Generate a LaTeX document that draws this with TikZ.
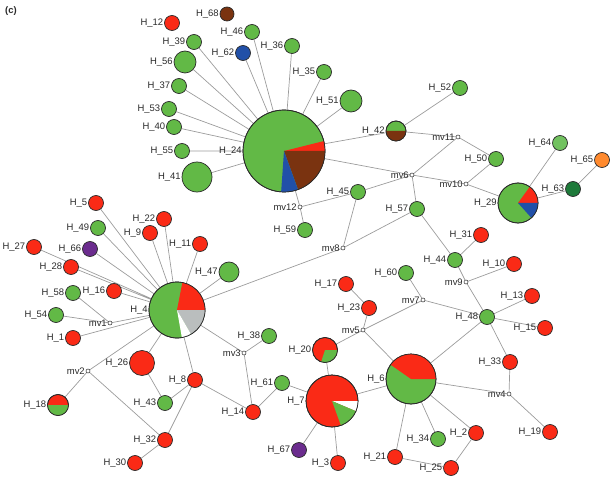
\documentclass[tikz,border=0pt]{standalone}
\usepackage{fontspec}
\setmainfont{Liberation Sans}
\usepackage{tikz}
\usetikzlibrary{backgrounds}
\definecolor{ink}{HTML}{2A2A2A}
\definecolor{hapgreen}{HTML}{62B946}
\definecolor{hapltgreen}{HTML}{72C260}
\definecolor{hapdkgreen}{HTML}{1E7A3A}
\definecolor{hapred}{HTML}{FA2A16}
\definecolor{hapbrown}{HTML}{7A3310}
\definecolor{hapblue}{HTML}{2150A8}
\definecolor{happurple}{HTML}{6B2C8E}
\definecolor{haporange}{HTML}{FF8A2E}
\definecolor{hapgrey}{HTML}{BABEBE}
\definecolor{linkgrey}{HTML}{9C9C9C}
\newcommand{\hapfont}{\fontsize{9.5}{11}\selectfont}
% one wedge of a pie node: node, radius, start, end, colour
\newcommand{\hapslice}[5]{\fill[#5] (#1.center) -- ++(#3:#2) arc[start angle=#3, end angle=#4, radius=#2] -- cycle;}

\begin{document}
\begin{tikzpicture}[
  x=1bp, y=-1bp,
  hap/.style={circle, draw=ink, line width=0.7bp, inner sep=0pt, minimum size=15bp},
  ghap/.style={hap, fill=hapgreen},
  rhap/.style={hap, fill=hapred},
  mv/.style={circle, draw=ink, line width=0.5bp, fill=white, inner sep=0pt, minimum size=4bp},
  lbl/.style={font=\hapfont, text=ink, inner sep=0.8bp},
  link/.style={linkgrey, line width=0.7bp},
  rim/.style={ink, line width=0.7bp}
]
  \useasboundingbox (0,0) rectangle (612,477);
  \node[font=\hapfont\bfseries, text=ink] (panel) at (11,11) {(c)};

  % large pie nodes
  \node[ghap, minimum size=82bp, label={[lbl]left:H\_24}] (H_24) at (284,151) {};
  \node[ghap, minimum size=56bp, label={[lbl]left:H\_4}] (H_4) at (177,310) {};
  \node[rhap, minimum size=52bp, label={[lbl]left:H\_7}] (H_7) at (332,401) {};
  \node[ghap, minimum size=50bp, label={[lbl]left:H\_6}] (H_6) at (411,379) {};
  \node[ghap, minimum size=40bp, label={[lbl]left:H\_29}] (H_29) at (518,203) {};
  \node[rhap, minimum size=25bp, label={[lbl]left:H\_20}] (H_20) at (325,350) {};
  \node[ghap, minimum size=20bp, label={[lbl]left:H\_42}] (H_42) at (396,131) {};
  \node[rhap, minimum size=21bp, label={[lbl]left:H\_18}] (H_18) at (58,405) {};

  % top fan
  \node[rhap, label={[lbl]left:H\_12}] (H_12) at (172,23) {};
  \node[hap, fill=hapbrown, minimum size=14bp, label={[lbl]left:H\_68}] (H_68) at (227,14) {};
  \node[ghap, label={[lbl]left:H\_46}] (H_46) at (252,32) {};
  \node[ghap, label={[lbl]left:H\_39}] (H_39) at (194,42) {};
  \node[hap, fill=hapblue, label={[lbl]left:H\_62}] (H_62) at (243,53) {};
  \node[ghap, label={[lbl]left:H\_36}] (H_36) at (292,46) {};
  \node[ghap, minimum size=22bp, label={[lbl]left:H\_56}] (H_56) at (185,62) {};
  \node[ghap, label={[lbl]left:H\_35}] (H_35) at (324,72) {};
  \node[ghap, label={[lbl]left:H\_37}] (H_37) at (179,86) {};
  \node[ghap, minimum size=22bp, label={[lbl]left:H\_51}] (H_51) at (351,101) {};
  \node[ghap, label={[lbl]left:H\_53}] (H_53) at (169,109) {};
  \node[ghap, label={[lbl]left:H\_40}] (H_40) at (174,127) {};
  \node[ghap, label={[lbl]left:H\_55}] (H_55) at (182,151) {};
  \node[ghap, minimum size=30bp, label={[lbl]left:H\_41}] (H_41) at (197,177) {};
  \node[ghap, label={[lbl]left:H\_52}] (H_52) at (460,88) {};
  \node[ghap, label={[lbl]left:H\_50}] (H_50) at (496,159) {};
  \node[hap, fill=hapltgreen, label={[lbl]left:H\_64}] (H_64) at (560,143) {};
  \node[hap, fill=haporange, label={[lbl]left:H\_65}] (H_65) at (602,160) {};
  \node[hap, fill=hapdkgreen, label={[lbl]left:H\_63}] (H_63) at (573,189) {};
  \node[ghap, label={[lbl]left:H\_45}] (H_45) at (358,192) {};
  \node[ghap, label={[lbl]left:H\_57}] (H_57) at (417,209) {};
  \node[ghap, label={[lbl]left:H\_59}] (H_59) at (305,230) {};
  \node[rhap, label={[lbl]left:H\_31}] (H_31) at (481,235) {};

  % left star
  \node[rhap, label={[lbl]left:H\_5}] (H_5) at (96,203) {};
  \node[ghap, label={[lbl]left:H\_49}] (H_49) at (98,228) {};
  \node[rhap, label={[lbl]left:H\_22}] (H_22) at (164,219) {};
  \node[rhap, label={[lbl]left:H\_9}] (H_9) at (150,233) {};
  \node[rhap, label={[lbl]left:H\_27}] (H_27) at (34,247) {};
  \node[hap, fill=happurple, label={[lbl]left:H\_66}] (H_66) at (90,249) {};
  \node[rhap, label={[lbl]left:H\_11}] (H_11) at (200,244) {};
  \node[rhap, label={[lbl]left:H\_28}] (H_28) at (71,267) {};
  \node[ghap, minimum size=20bp, label={[lbl]left:H\_47}] (H_47) at (229,272) {};
  \node[ghap, label={[lbl]left:H\_58}] (H_58) at (73,293) {};
  \node[rhap, label={[lbl]left:H\_16}] (H_16) at (114,291) {};
  \node[ghap, label={[lbl]left:H\_54}] (H_54) at (56,315) {};
  \node[rhap, label={[lbl]left:H\_1}] (H_1) at (73,338) {};
  \node[ghap, label={[lbl]left:H\_38}] (H_38) at (269,336) {};
  \node[rhap, minimum size=25bp, label={[lbl]left:H\_26}] (H_26) at (142,363) {};
  \node[rhap, label={[lbl]left:H\_8}] (H_8) at (195,380) {};
  \node[ghap, label={[lbl]left:H\_61}] (H_61) at (282,383) {};
  \node[ghap, label={[lbl]left:H\_43}] (H_43) at (165,403) {};
  \node[rhap, label={[lbl]left:H\_14}] (H_14) at (253,412) {};
  \node[rhap, label={[lbl]left:H\_32}] (H_32) at (165,440) {};
  \node[rhap, label={[lbl]left:H\_30}] (H_30) at (135,463) {};
  \node[hap, fill=happurple, label={[lbl]left:H\_67}] (H_67) at (299,450) {};
  \node[rhap, label={[lbl]left:H\_3}] (H_3) at (338,463) {};

  % right side
  \node[ghap, label={[lbl]left:H\_44}] (H_44) at (455,260) {};
  \node[rhap, label={[lbl]left:H\_10}] (H_10) at (514,264) {};
  \node[ghap, label={[lbl]left:H\_60}] (H_60) at (406,273) {};
  \node[rhap, label={[lbl]left:H\_17}] (H_17) at (346,284) {};
  \node[rhap, label={[lbl]left:H\_13}] (H_13) at (532,296) {};
  \node[rhap, label={[lbl]left:H\_23}] (H_23) at (369,308) {};
  \node[ghap, label={[lbl]left:H\_48}] (H_48) at (487,317) {};
  \node[rhap, label={[lbl]left:H\_15}] (H_15) at (545,328) {};
  \node[rhap, label={[lbl]left:H\_33}] (H_33) at (510,362) {};
  \node[rhap, label={[lbl]left:H\_19}] (H_19) at (550,432) {};
  \node[rhap, label={[lbl]left:H\_2}] (H_2) at (476,433) {};
  \node[ghap, label={[lbl]left:H\_34}] (H_34) at (438,439) {};
  \node[rhap, label={[lbl]left:H\_21}] (H_21) at (395,457) {};
  \node[rhap, label={[lbl]left:H\_25}] (H_25) at (451,468) {};

  % median vectors
  \node[mv, label={[lbl]left:mv1}] (mv1) at (110,323) {};
  \node[mv, label={[lbl]left:mv2}] (mv2) at (88,371) {};
  \node[mv, label={[lbl]left:mv3}] (mv3) at (244,353) {};
  \node[mv, label={[lbl]left:mv4}] (mv4) at (509,394) {};
  \node[mv, label={[lbl]left:mv5}] (mv5) at (363,330) {};
  \node[mv, label={[lbl]left:mv6}] (mv6) at (412,175) {};
  \node[mv, label={[lbl]left:mv7}] (mv7) at (423,300) {};
  \node[mv, label={[lbl]left:mv8}] (mv8) at (343,248) {};
  \node[mv, label={[lbl]left:mv9}] (mv9) at (466,282) {};
  \node[mv, label={[lbl]left:mv10}] (mv10) at (466,184) {};
  \node[mv, label={[lbl]left:mv11}] (mv11) at (458,137) {};
  \node[mv, label={[lbl]left:mv12}] (mv12) at (300,207) {};

  % pie wedges
  \hapslice{H_24}{41bp}{0}{14}{hapred}
  \hapslice{H_24}{41bp}{-70}{0}{hapbrown}
  \hapslice{H_24}{41bp}{-94}{-70}{hapblue}
  \draw[rim] (H_24.center) circle[radius=41bp];
  \hapslice{H_4}{28bp}{0}{79}{hapred}
  \hapslice{H_4}{28bp}{-60}{0}{hapgrey}
  \hapslice{H_4}{28bp}{-80}{-60}{white}
  \draw[rim] (H_4.center) circle[radius=28bp];
  \hapslice{H_7}{26bp}{-23}{0}{white}
  \hapslice{H_7}{26bp}{-70}{-23}{hapgreen}
  \draw[rim] (H_7.center) circle[radius=26bp];
  \hapslice{H_6}{25bp}{0}{145}{hapred}
  \draw[rim] (H_6.center) circle[radius=25bp];
  \hapslice{H_29}{20bp}{0}{54}{hapred}
  \hapslice{H_29}{20bp}{-48}{0}{hapblue}
  \draw[rim] (H_29.center) circle[radius=20bp];
  \hapslice{H_20}{12.5bp}{-108}{0}{hapgreen}
  \draw[rim] (H_20.center) circle[radius=12.5bp];
  \hapslice{H_42}{10bp}{180}{360}{hapbrown}
  \draw[rim] (H_42.center) circle[radius=10bp];
  \hapslice{H_18}{10.5bp}{180}{360}{hapgreen}
  \draw[rim] (H_18.center) circle[radius=10.5bp];

  \begin{scope}[on background layer]
    \draw[link] (H_24) -- (H_46) (H_24) -- (H_39);
    \draw[link] (H_24) -- (H_62) (H_24) -- (H_36) (H_24) -- (H_56) (H_24) -- (H_35);
    \draw[link] (H_24) -- (H_37) (H_24) -- (H_53) (H_24) -- (H_40) (H_24) -- (H_55);
    \draw[link] (H_24) -- (H_41) (H_24) -- (H_51) (H_24) -- (H_42) (H_24) -- (mv6) (H_24) -- (mv12);
    \draw[link] (H_42) -- (H_52) (H_42) -- (mv11) (mv11) -- (H_50) (mv11) -- (mv6);
    \draw[link] (mv6) -- (mv10) (mv6) -- (H_45) (mv6) -- (H_57) (mv10) -- (H_29) (mv10) -- (H_50);
    \draw[link] (H_29) -- (H_64) (H_29) -- (H_63) (H_63) -- (H_65);
    \draw[link] (mv12) -- (H_45) (mv12) -- (H_59) (mv8) -- (H_45) (mv8) -- (H_57) (mv8) -- (H_4);
    \draw[link] (H_57) -- (H_44) (H_44) -- (H_31) (H_44) -- (mv9) (mv9) -- (H_10) (mv9) -- (H_48);
    \draw[link] (H_48) -- (H_13) (H_48) -- (H_15) (H_48) -- (mv7) (H_48) -- (H_6) (H_48) -- (H_33);
    \draw[link] (mv7) -- (H_60) (mv7) -- (mv5) (mv5) -- (H_23) (H_23) -- (H_17) (mv5) -- (H_20) (mv5) -- (H_6);
    \draw[link] (H_33) -- (mv4) (mv4) -- (H_6) (mv4) -- (H_19);
    \draw[link] (H_6) -- (H_34) (H_6) -- (H_2) (H_6) -- (H_21) (H_6) -- (H_7) (H_25) -- (H_2) (H_25) -- (H_21);
    \draw[link] (H_7) -- (H_20) (H_7) -- (H_61) (H_7) -- (H_67) (H_7) -- (H_3) (H_61) -- (H_14);
    \draw[link] (H_14) -- (mv3) (H_14) -- (H_8) (mv3) -- (H_38) (mv3) -- (H_4);
    \draw[link] (H_8) -- (H_4) (H_8) -- (H_43) (H_8) -- (H_32) (H_43) -- (H_26) (H_26) -- (H_4);
    \draw[link] (H_32) -- (mv2) (H_32) -- (H_30) (mv2) -- (H_4) (mv2) -- (H_18);
    \draw[link] (H_4) -- (mv1) (mv1) -- (H_54) (mv1) -- (H_58) (H_4) -- (H_1);
    \draw[link] (H_4) -- (H_16) (H_4) -- (H_28) (H_4) -- (H_27) (H_4) -- (H_66) (H_4) -- (H_49);
    \draw[link] (H_4) -- (H_5) (H_4) -- (H_9) (H_4) -- (H_22) (H_4) -- (H_11) (H_4) -- (H_47);
  \end{scope}
\end{tikzpicture}
\end{document}
